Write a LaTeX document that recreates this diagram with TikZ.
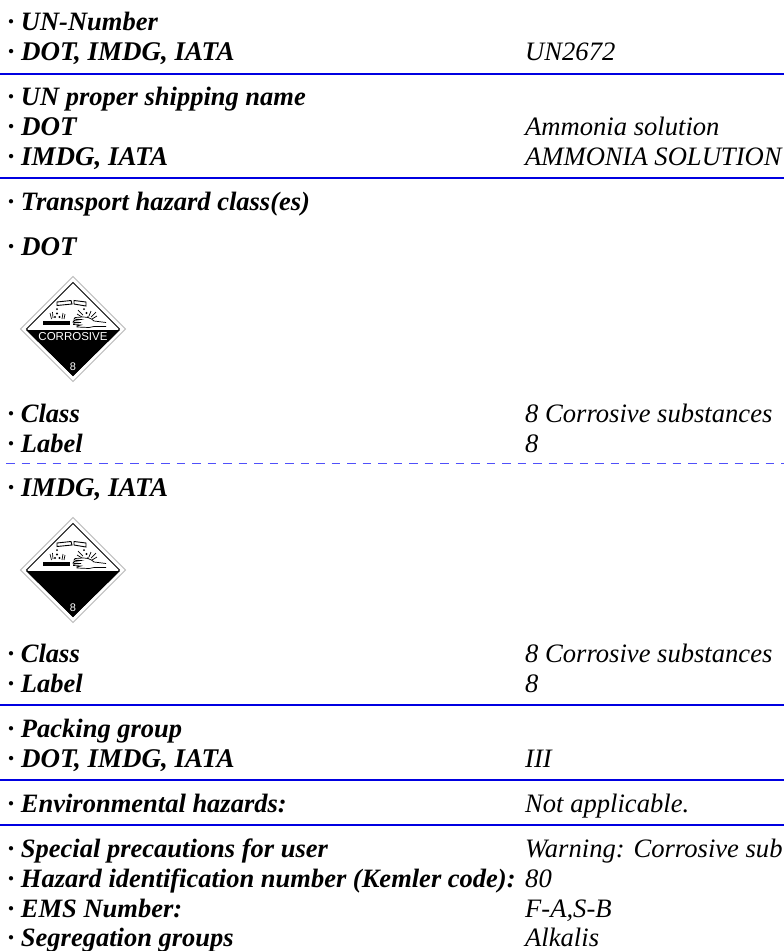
\documentclass[tikz,border=0pt]{standalone}
\usepackage{fontspec}
\setmainfont{Liberation Serif}
\setsansfont{Liberation Sans}
\definecolor{rule}{RGB}{0,0,225}
\definecolor{dashrule}{RGB}{80,80,250}
\tikzset{
 x=1pt,y=-1pt,
 lab/.style={anchor=base west,inner sep=0pt,font=\fontsize{26.5}{30}\selectfont\bfseries\itshape,text=black},
 labwide/.style={anchor=base west,inner sep=0pt,font=\fontsize{27}{30}\selectfont\bfseries\itshape,text=black},
 val/.style={anchor=base west,inner sep=0pt,font=\fontsize{26.6}{30}\selectfont\itshape,text=black},
 blueline/.style={draw=rule,line width=1.7pt},
 dashline/.style={draw=dashrule,line width=1.4pt,dash pattern=on 8.5pt off 7pt},
 pics/hazard/.style={code={
  \draw[gray!55,line width=.9pt,fill=white] (0,-52.5)--(52.5,0)--(0,52.5)--(-52.5,0)--cycle;
  \draw[black,line width=.8pt] (0,-46.5)--(46.5,0)--(0,46.5)--(-46.5,0)--cycle;
  \fill[black] (-47,1)--(47,1)--(0,47)--cycle;
  % left tube
  \draw[black,line width=.9pt,fill=white] (-16,-27)--(-2,-28.5)--(-1,-25)--(-16,-23.5)--cycle;
  % right tube
  \draw[black,line width=.9pt,fill=white] (1,-28.5)--(13,-27)--(13,-23)--(1,-25)--cycle;
  % bar
  \fill[black] (-30,-8.5) rectangle (-3,-4);
  % left drops and splashes
  \fill[black] (-16,-20) circle (1) (-16,-15.5) circle (1.1) (-18,-12) circle (1.1) (-13.5,-12) circle (1.1);
  \draw[black,line width=.7pt] (-23,-16)--(-21.5,-10) (-20.5,-17)--(-20,-11) (-10,-16)--(-11,-10) (-8,-15)--(-9,-10);
  % right drops and splashes
  \fill[black] (11,-20) circle (1) (13.5,-16) circle (1.1) (15,-12) circle (1);
  \draw[black,line width=.7pt] (5,-19)--(10,-14) (4,-15)--(9,-12) (18,-18)--(16,-13) (23,-17)--(18,-12) (24,-13)--(19,-10);
  % hand
  \draw[black,line width=.7pt,fill=white] (33,-6.5)--(21,-8) .. controls (18,-11) and (14,-12) .. (10,-12)
    --(2,-11.5)--(1,-10)--(8,-9.5)--(1,-8.5)--(0,-7)--(8,-6.5)--(1,-6)--(.5,-4.5)--(8,-4)--(4,-3)--(4,-2)
    --(16,-1.5)--(21,-2.5)--(33,-2.5);
 }},
}
\begin{document}
\begin{tikzpicture}
\useasboundingbox (0,0) rectangle (784,951);
\clip (0,0) rectangle (784,951);
\fill[white] (0,0) rectangle (784,951);
\node[lab] (a1) at (7.5,30.5) {· UN-Number};
\node[labwide] (a2) at (7.5,60) {· DOT, IMDG, IATA};
\node[val] (a3) at (525,60) {UN2672};
\node[lab] (b1) at (7.5,105) {· UN proper shipping name};
\node[labwide] (b2) at (7.5,135) {· DOT};
\node[val] (b3) at (525,135) {Ammonia solution};
\node[labwide] (b4) at (7.5,165) {· IMDG, IATA};
\node[val] (b5) at (525,165) {AMMONIA SOLUTION};
\node[lab] (c1) at (7.5,210) {· Transport hazard class(es)};
\node[labwide] (c2) at (7.5,255) {· DOT};
\pic at (73,329) {hazard};
\node[anchor=center,inner sep=0pt,text=white,font=\sffamily\fontsize{11.5}{14}\selectfont] (h1) at (73,336.5) {CORROSIVE};
\node[anchor=center,inner sep=0pt,text=white,font=\sffamily\fontsize{11}{12}\selectfont] (h2) at (73,367) {8};
\node[lab] (c3) at (7.5,422) {· Class};
\node[val] (c4) at (525,422) {8 Corrosive substances};
\node[lab] (c5) at (7.5,452) {· Label};
\node[val] (c6) at (525,452) {8};
\node[labwide] (d1) at (7.5,496) {· IMDG, IATA};
\pic at (73,570) {hazard};
\node[anchor=center,inner sep=0pt,text=white,font=\sffamily\fontsize{11}{12}\selectfont] (h3) at (73,608) {8};
\node[lab] (d2) at (7.5,662) {· Class};
\node[val] (d3) at (525,662) {8 Corrosive substances};
\node[lab] (d4) at (7.5,692) {· Label};
\node[val] (d5) at (525,692) {8};
\node[lab] (e1) at (7.5,737) {· Packing group};
\node[labwide] (e2) at (7.5,767) {· DOT, IMDG, IATA};
\node[val] (e3) at (525,767) {III};
\node[lab] (f1) at (7.5,812) {· Environmental hazards:};
\node[val] (f2) at (525,812) {Not applicable.};
\node[lab] (g1) at (7.5,857) {· Special precautions for user};
\node[val] (g2) at (525,857) {Warning: Corrosive sub};
\node[lab] (g3) at (7.5,887) {· Hazard identification number (Kemler code):};
\node[val] (g4) at (525,887) {80};
\node[lab] (g5) at (7.5,917) {· EMS Number:};
\node[val] (g6) at (525,917) {F-A,S-B};
\node[lab] (g7) at (7.5,946.5) {· Segregation groups};
\node[val] (g8) at (525,946.5) {Alkalis};
\foreach \yy in {74,178,705,780,825} \draw[blueline] (0,\yy)--(784,\yy);
\draw[dashline] (6,463.5)--(784,463.5);
\end{tikzpicture}
\end{document}
